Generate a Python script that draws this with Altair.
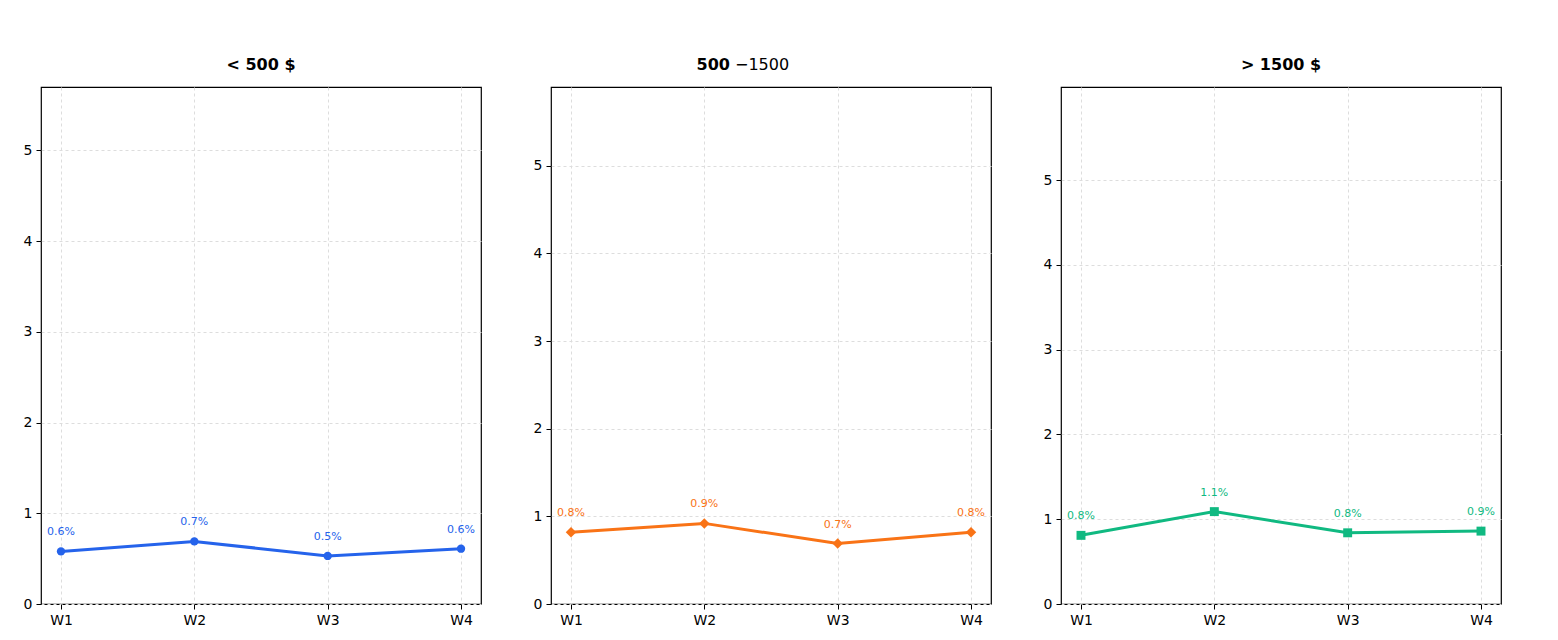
import pandas as pd
import altair as alt

weeks = ["W1", "W2", "W3", "W4"]
titles = ["< 500 $", "500 −1500", "> 1500 $"]
low = [0.58, 0.69, 0.53, 0.61]
mid = [0.82, 0.92, 0.69, 0.82]
high = [0.81, 1.09, 0.84, 0.86]
ymax = [5.7, 5.9, 6.1]
colors = ["#2563eb", "#f97316", "#10b981"]
shapes = ["circle", "diamond", "square"]
sizes = [70, 110, 80]


def panel(vals, title, top, color, shape, size):
    df = pd.DataFrame({"i": range(4), "week": weeks, "v": vals,
                       "lab": [f"{v:.1f}%" for v in vals]})
    base = alt.Chart(df).encode(
        x=alt.X("i:Q", scale=alt.Scale(domain=[-0.15, 3.15], nice=False, zero=False),
                axis=alt.Axis(values=[0, 1, 2, 3], labelExpr="['W1','W2','W3','W4'][datum.value]",
                              title=None, gridDash=[3, 3], gridColor="#dddddd",
                              labelFontSize=14, labelPadding=4, tickColor="black", domain=False)),
        y=alt.Y("v:Q", scale=alt.Scale(domain=[0, top], nice=False),
                axis=alt.Axis(values=[0, 1, 2, 3, 4, 5], title=None, gridDash=[3, 3],
                              gridColor="#dddddd", labelFontSize=14, labelPadding=4,
                              tickColor="black", domain=False, format="d")),
    )
    line = base.mark_line(color=color, strokeWidth=3)
    pts = base.mark_point(shape=shape, filled=True, opacity=1, color=color, size=size)
    txt = base.mark_text(dy=-19, fontSize=11, color=color).encode(text="lab:N")
    layers = [line, pts, txt]
    one = alt.Chart(df.head(1))
    if title.startswith("500"):
        layers += [
            one.mark_text(fontSize=16, fontWeight="bold", align="right", baseline="bottom").encode(
                x=alt.value(179), y=alt.value(-14), text=alt.value("500")),
            one.mark_text(fontSize=16, align="left", baseline="bottom").encode(
                x=alt.value(184), y=alt.value(-14), text=alt.value("−1500")),
        ]
    else:
        layers.append(one.mark_text(fontSize=16, fontWeight="bold", baseline="bottom").encode(
            x=alt.value(220), y=alt.value(-14), text=alt.value(title)))
    return alt.layer(*layers).properties(width=440, height=517)


charts = [panel(*a) for a in zip([low, mid, high], titles, ymax, colors, shapes, sizes)]
chart = alt.hconcat(*charts, spacing=50).properties(
    padding={"left": 14, "top": 48, "right": 5, "bottom": 5}
).configure(font="DejaVu Sans").configure_view(
    stroke="black", strokeWidth=1.2).configure_axis(labelColor="black")

chart.save("out.html", embed_options={"renderer": "svg", "actions": False})
